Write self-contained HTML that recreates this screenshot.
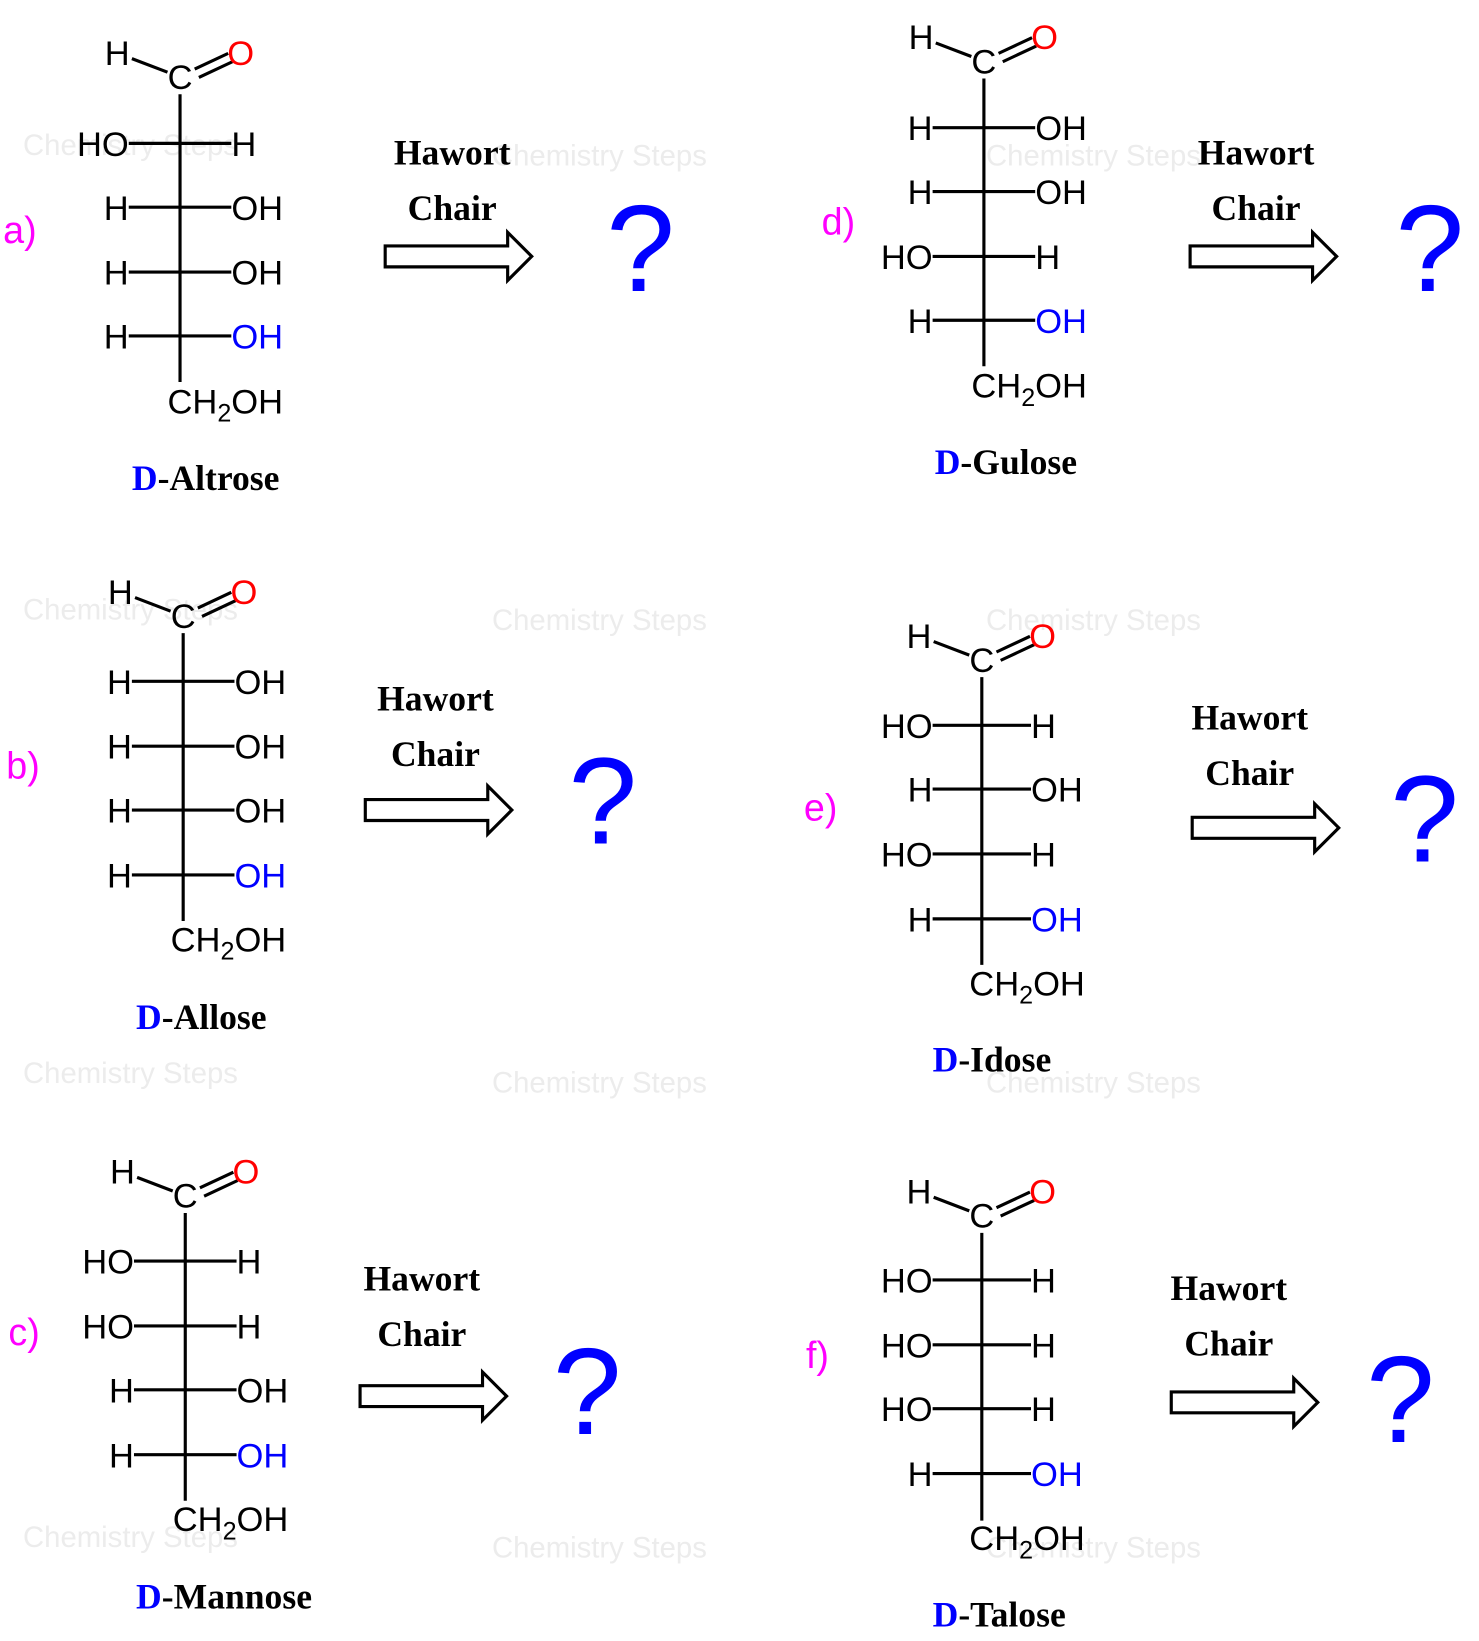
<!DOCTYPE html>
<html><head><meta charset="utf-8"><style>
html,body{margin:0;padding:0;background:#fff}
svg{display:block}
.a{font-family:"Liberation Sans",sans-serif;font-size:33px}
.s{font-family:"Liberation Serif",serif;font-size:34px;font-weight:bold}
.w{font-family:"Liberation Sans",sans-serif;font-size:28px;fill:#ececec}
.l{font-family:"Liberation Sans",sans-serif;font-size:36px;fill:#f0f}
</style></head><body>
<svg width="1479" height="1641" viewBox="0 0 1413 1568" preserveAspectRatio="none" xmlns="http://www.w3.org/2000/svg">
<g class="w">
<text x="22" y="148">Chemistry Steps</text><text x="470" y="158">Chemistry Steps</text><text x="942" y="158">Chemistry Steps</text>
<text x="22" y="592">Chemistry Steps</text><text x="470" y="602">Chemistry Steps</text><text x="942" y="602">Chemistry Steps</text>
<text x="22" y="1035">Chemistry Steps</text><text x="470" y="1044">Chemistry Steps</text><text x="942" y="1044">Chemistry Steps</text>
<text x="22" y="1478">Chemistry Steps</text><text x="470" y="1488">Chemistry Steps</text><text x="942" y="1488">Chemistry Steps</text>
</g>
<defs>
<g id="top" stroke="#000" stroke-width="3">
<line x1="-46" y1="-16" x2="-12" y2="-3"/>
<line x1="14" y1="-6" x2="46" y2="-21"/>
<line x1="18" y1="2" x2="50" y2="-13"/>
</g>
<g id="arr"><path d="M0,-10 H117 V-23 L140,0 L117,23 V10 H0 Z" fill="#fff" stroke="#000" stroke-width="3"/></g>
</defs>

<!-- a -->
<g transform="translate(172,72)">
<use href="#top"/>
<text class="a" x="-60" y="-10" text-anchor="middle">H</text>
<text class="a" x="0" y="13" text-anchor="middle">C</text>
<text class="a" x="58" y="-10" text-anchor="middle" fill="#f00">O</text>
<g stroke="#000" stroke-width="3"><line x1="0" y1="18" x2="0" y2="293"/>
<line x1="-49" y1="65" x2="49" y2="65"/><line x1="-49" y1="126" x2="49" y2="126"/><line x1="-49" y1="188" x2="49" y2="188"/><line x1="-49" y1="249" x2="49" y2="249"/></g>
<g class="a"><text x="-49" y="77" text-anchor="end">HO</text><text x="49" y="77">H</text>
<text x="-49" y="138" text-anchor="end">H</text><text x="49" y="138">OH</text>
<text x="-49" y="200" text-anchor="end">H</text><text x="49" y="200">OH</text>
<text x="-49" y="261" text-anchor="end">H</text><text x="49" y="261" fill="#00f">OH</text>
<text x="-12" y="323">CH<tspan font-size="24" dy="8">2</tspan><tspan dy="-8">OH</tspan></text></g>
</g>
<text class="s" x="126" y="468"><tspan fill="#00f">D</tspan>-Altrose</text>
<text class="l" x="3" y="232">a)</text>

<!-- b -->
<g transform="translate(175,587)">
<use href="#top"/>
<text class="a" x="-60" y="-10" text-anchor="middle">H</text>
<text class="a" x="0" y="13" text-anchor="middle">C</text>
<text class="a" x="58" y="-10" text-anchor="middle" fill="#f00">O</text>
<g stroke="#000" stroke-width="3"><line x1="0" y1="18" x2="0" y2="293"/>
<line x1="-49" y1="64" x2="49" y2="64"/><line x1="-49" y1="126" x2="49" y2="126"/><line x1="-49" y1="187" x2="49" y2="187"/><line x1="-49" y1="249" x2="49" y2="249"/></g>
<g class="a"><text x="-49" y="76" text-anchor="end">H</text><text x="49" y="76">OH</text>
<text x="-49" y="138" text-anchor="end">H</text><text x="49" y="138">OH</text>
<text x="-49" y="199" text-anchor="end">H</text><text x="49" y="199">OH</text>
<text x="-49" y="261" text-anchor="end">H</text><text x="49" y="261" fill="#00f">OH</text>
<text x="-12" y="322">CH<tspan font-size="24" dy="8">2</tspan><tspan dy="-8">OH</tspan></text></g>
</g>
<text class="s" x="130" y="983"><tspan fill="#00f">D</tspan>-Allose</text>
<text class="l" x="6" y="744">b)</text>

<!-- c -->
<g transform="translate(177,1141)">
<use href="#top"/>
<text class="a" x="-60" y="-10" text-anchor="middle">H</text>
<text class="a" x="0" y="13" text-anchor="middle">C</text>
<text class="a" x="58" y="-10" text-anchor="middle" fill="#f00">O</text>
<g stroke="#000" stroke-width="3"><line x1="0" y1="18" x2="0" y2="293"/>
<line x1="-49" y1="64" x2="49" y2="64"/><line x1="-49" y1="126" x2="49" y2="126"/><line x1="-49" y1="187" x2="49" y2="187"/><line x1="-49" y1="249" x2="49" y2="249"/></g>
<g class="a"><text x="-49" y="76" text-anchor="end">HO</text><text x="49" y="76">H</text>
<text x="-49" y="138" text-anchor="end">HO</text><text x="49" y="138">H</text>
<text x="-49" y="199" text-anchor="end">H</text><text x="49" y="199">OH</text>
<text x="-49" y="261" text-anchor="end">H</text><text x="49" y="261" fill="#00f">OH</text>
<text x="-12" y="322">CH<tspan font-size="24" dy="8">2</tspan><tspan dy="-8">OH</tspan></text></g>
</g>
<text class="s" x="130" y="1537"><tspan fill="#00f">D</tspan>-Mannose</text>
<text class="l" x="8" y="1285">c)</text>

<!-- d -->
<g transform="translate(940,57)">
<use href="#top"/>
<text class="a" x="-60" y="-10" text-anchor="middle">H</text>
<text class="a" x="0" y="13" text-anchor="middle">C</text>
<text class="a" x="58" y="-10" text-anchor="middle" fill="#f00">O</text>
<g stroke="#000" stroke-width="3"><line x1="0" y1="18" x2="0" y2="293"/>
<line x1="-49" y1="65" x2="49" y2="65"/><line x1="-49" y1="126" x2="49" y2="126"/><line x1="-49" y1="188" x2="49" y2="188"/><line x1="-49" y1="249" x2="49" y2="249"/></g>
<g class="a"><text x="-49" y="77" text-anchor="end">H</text><text x="49" y="77">OH</text>
<text x="-49" y="138" text-anchor="end">H</text><text x="49" y="138">OH</text>
<text x="-49" y="200" text-anchor="end">HO</text><text x="49" y="200">H</text>
<text x="-49" y="261" text-anchor="end">H</text><text x="49" y="261" fill="#00f">OH</text>
<text x="-12" y="323">CH<tspan font-size="24" dy="8">2</tspan><tspan dy="-8">OH</tspan></text></g>
</g>
<text class="s" x="893" y="453"><tspan fill="#00f">D</tspan>-Gulose</text>
<text class="l" x="785" y="224">d)</text>

<!-- e -->
<g transform="translate(938,629)">
<use href="#top"/>
<text class="a" x="-60" y="-10" text-anchor="middle">H</text>
<text class="a" x="0" y="13" text-anchor="middle">C</text>
<text class="a" x="58" y="-10" text-anchor="middle" fill="#f00">O</text>
<g stroke="#000" stroke-width="3"><line x1="0" y1="18" x2="0" y2="293"/>
<line x1="-47" y1="64" x2="47" y2="64"/><line x1="-47" y1="125" x2="47" y2="125"/><line x1="-47" y1="187" x2="47" y2="187"/><line x1="-47" y1="249" x2="47" y2="249"/></g>
<g class="a"><text x="-47" y="76" text-anchor="end">HO</text><text x="47" y="76">H</text>
<text x="-47" y="137" text-anchor="end">H</text><text x="47" y="137">OH</text>
<text x="-47" y="199" text-anchor="end">HO</text><text x="47" y="199">H</text>
<text x="-47" y="261" text-anchor="end">H</text><text x="47" y="261" fill="#00f">OH</text>
<text x="-12" y="322">CH<tspan font-size="24" dy="8">2</tspan><tspan dy="-8">OH</tspan></text></g>
</g>
<text class="s" x="891" y="1024"><tspan fill="#00f">D</tspan>-Idose</text>
<text class="l" x="768" y="784">e)</text>

<!-- f -->
<g transform="translate(938,1160)">
<use href="#top"/>
<text class="a" x="-60" y="-10" text-anchor="middle">H</text>
<text class="a" x="0" y="13" text-anchor="middle">C</text>
<text class="a" x="58" y="-10" text-anchor="middle" fill="#f00">O</text>
<g stroke="#000" stroke-width="3"><line x1="0" y1="18" x2="0" y2="293"/>
<line x1="-47" y1="63" x2="47" y2="63"/><line x1="-47" y1="125" x2="47" y2="125"/><line x1="-47" y1="186" x2="47" y2="186"/><line x1="-47" y1="248" x2="47" y2="248"/></g>
<g class="a"><text x="-47" y="75" text-anchor="end">HO</text><text x="47" y="75">H</text>
<text x="-47" y="137" text-anchor="end">HO</text><text x="47" y="137">H</text>
<text x="-47" y="198" text-anchor="end">HO</text><text x="47" y="198">H</text>
<text x="-47" y="260" text-anchor="end">H</text><text x="47" y="260" fill="#00f">OH</text>
<text x="-12" y="321">CH<tspan font-size="24" dy="8">2</tspan><tspan dy="-8">OH</tspan></text></g>
</g>
<text class="s" x="891" y="1554"><tspan fill="#00f">D</tspan>-Talose</text>
<text class="l" x="770" y="1307">f)</text>

<g class="s" text-anchor="middle">
<text x="432" y="157">Hawort</text><text x="432" y="210">Chair</text>
<text x="416" y="679">Hawort</text><text x="416" y="732">Chair</text>
<text x="403" y="1233">Hawort</text><text x="403" y="1286">Chair</text>
<text x="1200" y="157">Hawort</text><text x="1200" y="210">Chair</text>
<text x="1194" y="697">Hawort</text><text x="1194" y="750">Chair</text>
<text x="1174" y="1242">Hawort</text><text x="1174" y="1295">Chair</text>
</g>
<use href="#arr" transform="translate(368,245)"/>
<use href="#arr" transform="translate(349,774)"/>
<use href="#arr" transform="translate(344,1334)"/>
<use href="#arr" transform="translate(1137,245)"/>
<use href="#arr" transform="translate(1139,791)"/>
<use href="#arr" transform="translate(1119,1340)"/>
<g font-family="Liberation Sans, sans-serif" font-size="118" fill="#00f" text-anchor="middle">
<text x="612" y="278">?</text>
<text x="576" y="806">?</text>
<text x="561" y="1370">?</text>
<text x="1366" y="278">?</text>
<text x="1361" y="823">?</text>
<text x="1338" y="1378">?</text>
</g>
</svg>
</body></html>
